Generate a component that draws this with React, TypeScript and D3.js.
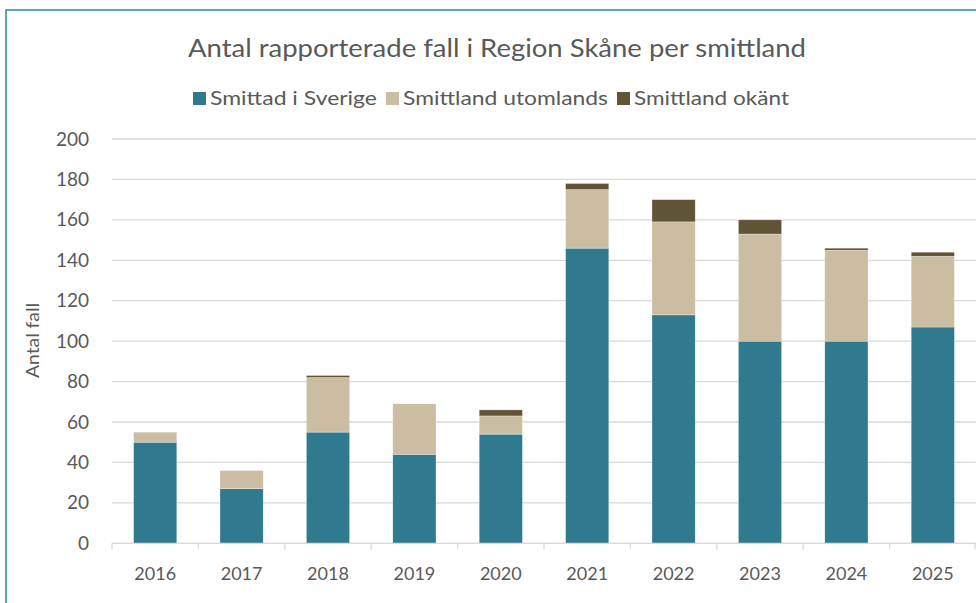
import React from "react";
import * as d3 from "d3";

const years = ["2016", "2017", "2018", "2019", "2020", "2021", "2022", "2023", "2024", "2025"];
const sverige = [50, 27, 55, 44, 54, 146, 113, 100, 100, 107];
const utomlands = [5, 9, 27, 25, 9, 29, 46, 53, 45, 35];
const okant = [0, 0, 1, 0, 3, 3, 11, 7, 1, 2];
const seriesNames = ["Smittad i Sverige", "Smittland utomlands", "Smittland okänt"];
const seriesColors = ["#2F7A8E", "#CBBDA1", "#615336"];
const yTicks = [0, 20, 40, 60, 80, 100, 120, 140, 160, 180, 200];

const W = 976;
const H = 603;
const FONT = "Lato, 'Open Sans', sans-serif";
const TXT = "#595959";

export default function App() {
  const x = d3.scaleBand<string>().domain(years).range([112, 976]).paddingInner(0.5).paddingOuter(0.25);
  const y = d3.scaleLinear().domain([0, 200]).range([543.3, 139]);

  const rows = years.map((yr, i) => ({ year: yr, s0: sverige[i], s1: utomlands[i], s2: okant[i] }));
  const stack = d3.stack<any>().keys(["s0", "s1", "s2"]);
  const stacked = stack(rows);

  const legendItems = [
    { x: 193, label: seriesNames[0], color: seriesColors[0] },
    { x: 386, label: seriesNames[1], color: seriesColors[1] },
    { x: 617, label: seriesNames[2], color: seriesColors[2] },
  ];
  const legendWidths = [167, 205, 155];

  return (
    <div style={{ position: "fixed", left: 0, top: 0 }}>
      <svg width={W} height={H} style={{ display: "block", background: "#fff" }}>
        <rect x={6} y={10} width={W + 20} height={H + 20} fill="#fff" stroke="#2E86A0" strokeWidth={1.5} />
        <text
          x={497}
          y={57}
          textAnchor="middle"
          fontFamily={FONT}
          fontSize={25}
          fill={TXT}
          textLength={618}
          lengthAdjust="spacingAndGlyphs"
        >
          Antal rapporterade fall i Region Skåne per smittland
        </text>
        {legendItems.map((d, i) => (
          <g key={d.label}>
            <rect x={d.x} y={92} width={13} height={13} fill={d.color} />
            <text
              x={d.x + 17}
              y={105}
              fontFamily={FONT}
              fontSize={20}
              fill={TXT}
              textLength={legendWidths[i]}
              lengthAdjust="spacingAndGlyphs"
            >
              {d.label}
            </text>
          </g>
        ))}
        {yTicks.map((t) => (
          <g key={t}>
            <line x1={112} x2={976} y1={y(t)} y2={y(t)} stroke="#D9D9D9" strokeWidth={1.3} />
            <text x={89} y={y(t) + 6.5} textAnchor="end" fontFamily={FONT} fontSize={19} fill={TXT}>
              {t}
            </text>
          </g>
        ))}
        <text
          transform={`translate(38.5,340.5) rotate(-90)`}
          textAnchor="middle"
          fontFamily={FONT}
          fontSize={17}
          fill={TXT}
          textLength={75}
          lengthAdjust="spacingAndGlyphs"
        >
          Antal fall
        </text>
        {stacked.map((layer, li) => (
          <g key={li}>
            {layer.map((d, i) =>
              d[1] - d[0] > 0 ? (
                <rect
                  key={i}
                  x={x(years[i])}
                  y={y(d[1])}
                  width={x.bandwidth()}
                  height={y(d[0]) - y(d[1])}
                  fill={seriesColors[li]}
                  stroke="#ffffff"
                  strokeOpacity={0.5}
                  strokeWidth={0.6}
                />
              ) : null
            )}
          </g>
        ))}
        <line x1={112} x2={976} y1={y(0)} y2={y(0)} stroke="#D9D9D9" strokeWidth={1.3} />
        {years.map((yr, i) => (
          <line
            key={yr}
            x1={112 + i * x.step()}
            x2={112 + i * x.step()}
            y1={y(0)}
            y2={y(0) + 6}
            stroke="#D9D9D9"
            strokeWidth={1.3}
          />
        ))}
        <line x1={975} x2={975} y1={y(0)} y2={y(0) + 6} stroke="#D9D9D9" strokeWidth={1.3} />
        {years.map((yr) => (
          <text
            key={yr}
            x={(x(yr) as number) + x.bandwidth() / 2}
            y={580}
            textAnchor="middle"
            fontFamily={FONT}
            fontSize={18}
            fill={TXT}
          >
            {yr}
          </text>
        ))}
      </svg>
    </div>
  );
}
